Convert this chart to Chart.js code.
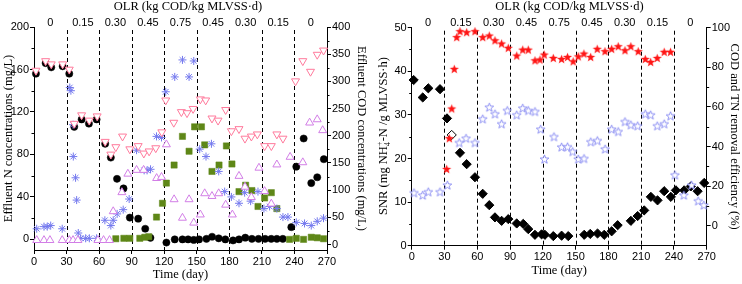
<!DOCTYPE html>
<html><head><meta charset="utf-8">
<script src="https://cdn.jsdelivr.net/npm/chart.js@4"></script>
<style>
html,body{margin:0;padding:0;background:#fff;width:742px;height:284px;overflow:hidden}
.w{position:absolute;top:0;width:371px;height:284px}
</style></head><body>
<div class="w" style="left:0"><canvas id="c1" width="371" height="284"></canvas></div>
<div class="w" style="left:371px"><canvas id="c2" width="371" height="284"></canvas></div>
<script>
// ---------- shared labels ----------
const olrTitle = 'OLR (kg COD/kg MLVSS·d)';
const olrLabels = ['0','0.15','0.30','0.45','0.75','0.45','0.30','0.15','0'];
const stageEdges = [0,30,60,90,120,150,180,210,240,270];
const xTicks = [0,30,60,90,120,150,180,210,240,270];
const nTicks = [0,40,80,120,160,200];
const codTicks = [0,50,100,150,200,250,300,350,400];
const snrTicks = [0,10,20,30,40,50];
const effTicks = [0,20,40,60,80,100];

// ---------- left panel: effluent N (mg/L) & COD (mg/L) ----------
const circleN = [[1.8,156],[10.7,166],[15.9,162],[26.4,163],[32.5,156],[37.1,106],[43.9,113],[50.6,109],[57.7,113],
[65.6,90],[70.8,77],[76.5,57],[82.5,48],[88.3,20.5],[96,19.5],[102.5,10],[107.3,1.5],
[122,-3],[129.7,0],[136.8,0],[142,0],[147.2,-0.5],[152.1,0],[158.9,0.5],[164.1,2.5],[170.2,1],[176.3,0],[183.4,-1],
[188.9,0],[194.7,1.6],[200.8,0.5],[206.9,0.5],[213,0.5],[218.6,0.5],[223.8,0.5],[229.3,0.5],
[237.1,11.5],[241.7,68.5],[248.5,95],[255.5,53],[261,58.5],[267.1,75.5]];
const asteriskN = [[2.5,10],[9.2,12],[12.2,12],[15.4,13],[26,10],[33,143],[34,140],[36,108],[36.2,78],[38.3,58],[39.3,37],[40.8,6],
[43,1],[47.6,1],[51,1],[57.7,1],[65.3,18],[70.8,13],[73,18],[76.6,24],[82.2,28],[87.7,38],[94.5,84],[101.5,65],[104.2,65],[107.4,66],
[112.9,97],[117.5,96],[121.4,139],[129.7,153],[136.8,169],[142.9,153],[147.2,168],[152.7,85],[158.5,78],[163.5,90],[170.2,64],
[175.7,45],[181.9,40],[188.9,34],[194.1,44],[199.6,36],[206.4,45],[211.9,29],[217.1,31],[223.8,29],[229.4,21],[234,21],
[241.7,16],[249.3,15],[255.5,13],[261,17],[266.8,20]];
const squareN = [[75.4,0.6],[82.8,1],[88.3,1],[97.5,1],[102.1,2],[105.8,2.5],[112.9,21],[118.4,34],[122,53],[129.1,70],[136.8,97],
[142.9,83],[148,106],[154.3,106],[157.3,89],[164,64],[170.5,70],[177.3,88],[182.4,71],[188.9,45],[195,51],[200.8,46],[206.4,31],
[212.5,39],[218.7,44],[223.8,29],[235.5,0],[241.7,1],[248.4,0],[255.5,2],[261,1.5],[266.8,0.6]];
const invTriN = [[1.8,159],[10.7,168],[15.9,165],[26.4,165],[32.5,160],[37.1,109],[43.9,117],[50.9,112],[58.2,116],[65.6,92],
[70.8,80],[75.4,87],[81.6,97],[88.3,85],[96,88],[101.2,81],[106.1,83],[112.2,86],[117.8,101],[121.4,131],[128.8,110],[135.8,120],
[141,119],[146.6,123],[153.3,132],[158.2,131],[164,114],[169.6,112],[176.6,122],[181.9,102],[188.9,104],[194.4,95],[200.3,97],
[205.8,99],[212.5,88],[218.7,88],[223.8,99],[229.4,95],[241,149],[247.7,168],[254.8,158],[261,174],[266.8,178]];
const triCOD = [[2.5,8],[9.2,8],[14.7,8],[26,8],[32.5,8],[36,8],[40.5,8],[58.9,8],[64.1,8],[69.6,8],
[73,61],[81,96],[86.5,130],[94.5,137],[101,137],[113,122],[117.5,124],[122,184],[129.1,83],[136.8,49],[142.9,83],[147.2,40],
[153.3,55],[157.3,94],[164,89],[170.2,94],[176.6,73],[182.8,55],[188.9,126],[194.4,106],[200.3,87],[207.3,141],[212.5,98],
[218.7,75],[223.8,147],[236,161],[247.7,151],[254,224],[261,230],[266,210]];

// ---------- right panel: SNR & removal efficiency ----------
const snrData = [[1.8,38],[10.1,34],[15.2,36.1],[25.9,35.9],[32.3,29.2],[36.6,25.4],[44.2,21.3],[50.3,18.7],[57.9,15.7],[65,11.9],
[71,9.3],[76.2,6.5],[82.3,5.7],[88.4,6.1],[96.1,5.1],[102.1,5],[106.7,3.8],[112.8,2.5],[118.9,2.6],[121.9,2.5],[129.6,2.2],
[137.2,2.3],[143.3,2.2],[157.9,2.5],[163.4,2.7],[170.1,2.8],[176.2,2.5],[183,3.3],[188.5,4.7],[200.6,5.7],[206.8,6.8],[212.8,8.1],
[218.9,11.2],[225,10.4],[231.1,12.5],[237.2,11.2],[241.8,12.7],[249.4,12.7],[255.5,13.6],[261.7,12.5],[267.7,14.4]];
const codRemoval = [[32,28.5],[34.4,44],[36.6,59],[39,79],[41.2,95],[44.2,98],[50.3,97.5],[57.9,98],[65,95],[71,95.8],[76.2,93.4],
[82.3,91.8],[88.4,89.6],[96.1,85.7],[101.6,88.7],[106.7,88.7],[112.8,83.3],[117.4,83.7],[121.3,86.2],[129.6,84.5],[137.2,84],
[142.6,85],[147.8,82.8],[152.4,85.3],[157.6,86.7],[163.8,85],[169.8,89.1],[176.9,87.9],[183,89.1],[189,90.4],[195.2,88.4],
[200.6,90.4],[207.3,87.9],[213.8,84],[218.7,82.5],[224.7,84.5],[231.1,87.6],[236.9,87.6]];
const tnRemoval = [[2.1,16.5],[10.1,15.3],[15.2,17],[25.9,17],[32.6,20.4],[43.5,41.8],[49.7,44],[57.9,41.8],[65,53.8],[71,59.7],
[76.2,56.3],[82.3,51.3],[87.5,58],[96.1,55.8],[101.6,59.2],[106.7,58],[112.8,57.5],[118,48.6],[121.5,33.5],[130.2,44.8],[137.2,39.6],
[142.6,39.7],[147.3,37.3],[152.4,33.5],[157.7,33.8],[163.9,42.2],[169.9,42.8],[177,38.6],[183,48.6],[189,47.4],[195.2,52.4],
[200.6,50.8],[206.8,50.3],[213.8,56.3],[218.7,55.8],[224.7,50.3],[231.1,51.3],[236.9,55.3],[240.9,25.5],[249.1,15.3],[256.2,20.4],
[262.2,12.4],[267.4,10.3]];

// ---------- helpers ----------
const pts = a => a.map(([x,y]) => ({x, y}));
function starImg(R, fill, stroke, lw) {
  const s = Math.ceil(R*2+3), c = document.createElement('canvas'); c.width = s; c.height = s;
  const g = c.getContext('2d'), cx = s/2, cy = s/2, r = R*0.42;
  g.beginPath();
  for (let i = 0; i < 10; i++) {
    const a = -Math.PI/2 + i*Math.PI/5, rr = i%2 ? r : R;
    g.lineTo(cx + rr*Math.cos(a), cy + rr*Math.sin(a));
  }
  g.closePath();
  g.fillStyle = fill; g.fill();
  if (stroke) { g.strokeStyle = stroke; g.lineWidth = lw; g.stroke(); }
  return c;
}
const SANS = '"Liberation Sans", Arial, sans-serif';
const SERIF = '"Liberation Serif", "Times New Roman", serif';
Chart.defaults.font.family = SANS;
Chart.defaults.font.size = 11;
Chart.defaults.color = '#000';

const decor = {
  id: 'decor',
  beforeDatasetsDraw(chart, args, o) {
    const {ctx, chartArea: a, scales} = chart, x = scales.x;
    ctx.save();
    ctx.strokeStyle = '#000'; ctx.lineWidth = 1; ctx.setLineDash([4,3]);
    stageEdges.slice(1, -1).forEach(d => {
      const px = Math.round(x.getPixelForValue(d)) + 0.5;
      ctx.beginPath(); ctx.moveTo(px, a.top + 3); ctx.lineTo(px, a.bottom); ctx.stroke();
    });
    ctx.setLineDash([]);
    ctx.fillStyle = '#000'; ctx.textAlign = 'center'; ctx.textBaseline = 'middle';
    ctx.font = '11px ' + SANS;
    olrLabels.forEach((t, i) => ctx.fillText(t, x.getPixelForValue((stageEdges[i] + stageEdges[i+1]) / 2), o.labelY));
    ctx.font = '12.5px ' + SERIF;
    ctx.fillText(olrTitle, o.titleX, o.titleY);
    // minor ticks
    (o.minor || []).forEach(m => {
      const s = scales[m.id];
      m.values.forEach(v => {
        const py = Math.round(s.getPixelForValue(v)) + 0.5;
        ctx.beginPath();
        if (s.position === 'left') { ctx.moveTo(s.right - 2.5, py); ctx.lineTo(s.right, py); }
        else { ctx.moveTo(s.left, py); ctx.lineTo(s.left + 2.5, py); }
        ctx.stroke();
      });
    });
    if (o.snrTitle) {
      ctx.translate(o.snrTitle.x, o.snrTitle.y); ctx.rotate(-Math.PI/2);
      const big = '12.5px ' + SERIF, small = '8.5px ' + SERIF;
      const p1 = 'SNR (mg NH', p3 = '-N /g MLVSS·h)';
      ctx.font = big; const w1 = ctx.measureText(p1).width, w3 = ctx.measureText(p3).width;
      ctx.font = small; const w2 = Math.max(ctx.measureText('4').width, ctx.measureText('+').width);
      let tx = -(w1 + w2 + w3) / 2;
      ctx.textAlign = 'left'; ctx.textBaseline = 'alphabetic';
      ctx.font = big; ctx.fillText(p1, tx, 4); tx += w1;
      ctx.font = small; ctx.fillText('4', tx, 7); ctx.fillText('+', tx, -1.5); tx += w2;
      ctx.font = big; ctx.fillText(p3, tx, 4);
    }
    ctx.restore();
  }
};

function axisCommon(extra) {
  return Object.assign({
    type: 'linear',
    border: {color: '#000', width: 1},
    grid: {drawOnChartArea: false, drawTicks: true, tickLength: 4, tickColor: '#000', tickWidth: 1},
    ticks: {color: '#000', padding: 1, font: {size: 11, family: SANS}, autoSkip: false, maxRotation: 0}
  }, extra);
}
const setTicks = arr => s => { s.ticks = arr.map(v => ({value: v})); };

// ---------- chart 1 ----------
new Chart(document.getElementById('c1'), {
  type: 'scatter',
  data: {datasets: [
    {data: pts(invTriN), pointStyle: 'triangle', rotation: 180, radius: 4.6, backgroundColor: '#fff', borderColor: '#ff7a9c', borderWidth: 1, yAxisID: 'y'},
    {data: pts(triCOD), pointStyle: 'triangle', radius: 4.6, backgroundColor: '#fff', borderColor: '#d27ee6', borderWidth: 1, yAxisID: 'y2'},
    {data: pts(asteriskN), pointStyle: 'star', radius: 4, borderColor: '#7479ee', borderWidth: 1, backgroundColor: '#7479ee', yAxisID: 'y'},
    {data: pts(squareN), pointStyle: 'rect', radius: 4.4, backgroundColor: '#5e8717', borderColor: '#5e8717', borderWidth: 0.5, yAxisID: 'y'},
    {data: pts(circleN), pointStyle: 'circle', radius: 3.6, backgroundColor: '#000', borderColor: '#000', borderWidth: 0.5, yAxisID: 'y'}
  ]},
  options: {
    responsive: false, animation: false, events: [],
    layout: {padding: {top: 27, left: 0, right: 0, bottom: 0}},
    datasets: {scatter: {clip: false}},
    plugins: {legend: {display: false}, tooltip: {enabled: false},
      decor: {labelY: 22.5, titleX: 188, titleY: 7,
        minor: [{id: 'y', values: [20,60,100,140,180]}, {id: 'y2', values: [25,75,125,175,225,275,325,375]}]}},
    scales: {
      x: axisCommon({position: 'bottom', min: 0, max: 270, afterBuildTicks: setTicks(xTicks),
        afterFit: s => { s.height = 34; },
        title: {display: true, text: 'Time (day)', color: '#000', font: {family: SERIF, size: 12.5}, padding: {top: 0, bottom: 2}}}),
      y: axisCommon({position: 'left', min: -10, max: 200, afterBuildTicks: setTicks(nTicks),
        afterFit: s => { s.width = 34; },
        title: {display: true, text: 'Effluent N concentrations (mg/L)', color: '#000', font: {family: SERIF, size: 12.5}, padding: {top: 1, bottom: 0}}}),
      y2: axisCommon({position: 'right', min: -10, max: 400, afterBuildTicks: setTicks(codTicks),
        afterFit: s => { s.width = 44; },
        title: {display: true, text: 'Effluent COD concentrations (mg/L)', color: '#000', font: {family: SERIF, size: 12.5}, padding: {top: 2, bottom: 0}}})
    }
  },
  plugins: [decor]
});

// ---------- chart 2 ----------
new Chart(document.getElementById('c2'), {
  type: 'scatter',
  data: {datasets: [
    {data: pts(tnRemoval), pointStyle: starImg(4.6, '#fff', '#8488f2', 0.9), yAxisID: 'y2'},
    {data: pts(codRemoval), pointStyle: starImg(4.8, '#ff1515', null, 0), yAxisID: 'y2'},
    {data: pts(snrData), pointStyle: 'rectRot', radius: 4.6,
      backgroundColor: c => c.dataIndex === 5 ? '#fff' : '#000', borderColor: '#000', borderWidth: 1, yAxisID: 'y'}
  ]},
  options: {
    responsive: false, animation: false, events: [],
    layout: {padding: {top: 27.7, left: 0, right: 0, bottom: 0}},
    datasets: {scatter: {clip: false}},
    plugins: {legend: {display: false}, tooltip: {enabled: false},
      decor: {labelY: 22.5, titleX: 198.5, titleY: 7, snrTitle: {x: 12, y: 136},
        minor: [{id: 'y', values: [5,15,25,35,45]}, {id: 'y2', values: [10,30,50,70,90]}]}},
    scales: {
      x: axisCommon({position: 'bottom', min: 0, max: 270, afterBuildTicks: setTicks(xTicks),
        afterFit: s => { s.height = 38.3; },
        title: {display: true, text: 'Time (day)', color: '#000', font: {family: SERIF, size: 12.5}, padding: {top: 0, bottom: 6}}}),
      y: axisCommon({position: 'left', min: 0, max: 50, afterBuildTicks: setTicks(snrTicks),
        afterFit: s => { s.width = 40.7; }}),
      y2: axisCommon({position: 'right', min: -10, max: 100, afterBuildTicks: setTicks(effTicks),
        afterFit: s => { s.width = 35.3; },
        title: {display: true, text: 'COD and TN removal efficiency (%)', color: '#000', font: {family: SERIF, size: 12.5}, padding: {top: 0, bottom: 0}}})
    }
  },
  plugins: [decor]
});
</script>
</body></html>
